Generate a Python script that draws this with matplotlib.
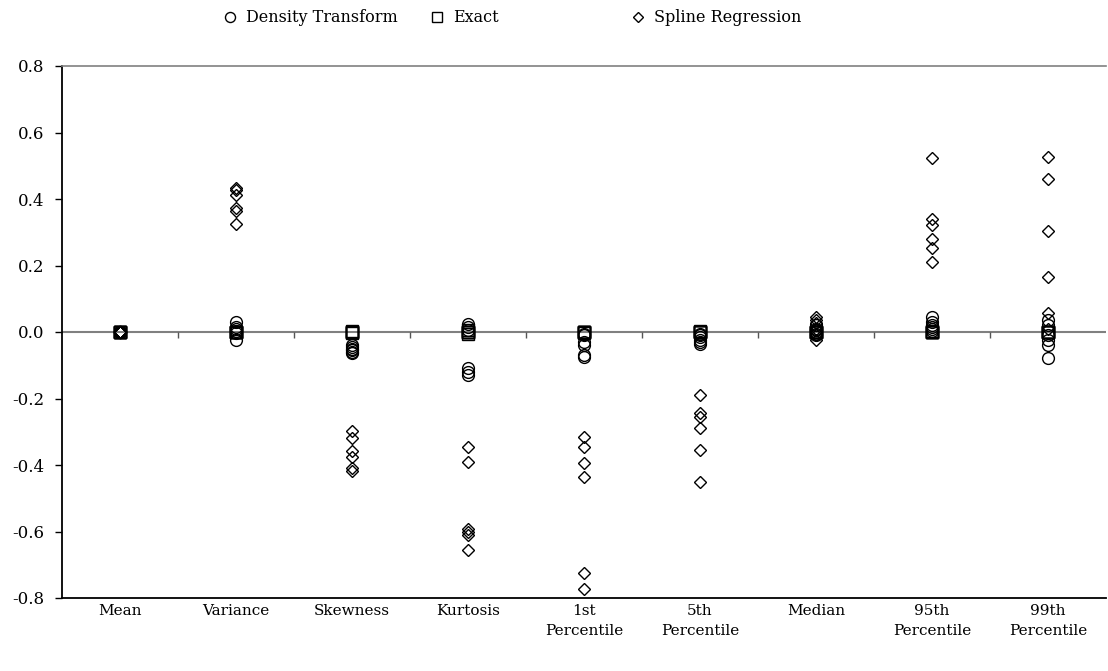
import matplotlib
matplotlib.use("Agg")
import matplotlib.pyplot as plt
import numpy as np

plt.rcParams['font.family'] = ['DejaVu Serif']
plt.rcParams['axes.unicode_minus'] = False

categories = ["Mean", "Variance", "Skewness", "Kurtosis", "1st\nPercentile",
              "5th\nPercentile", "Median", "95th\nPercentile", "99th\nPercentile"]

density_transform = [
    [0.0, 0.0, 0.0, 0.0, 0.0, 0.0],
    [0.031, 0.016, 0.008, 0.004, -0.004, -0.024],
    [-0.040, -0.045, -0.050, -0.055, -0.060, -0.064],
    [0.025, 0.015, 0.005, -0.109, -0.119, -0.129],
    [-0.005, -0.009, -0.030, -0.040, -0.070, -0.075],
    [-0.005, -0.010, -0.014, -0.024, -0.030, -0.036],
    [0.020, 0.010, 0.000, -0.005, -0.010, 0.005],
    [0.046, 0.031, 0.021, 0.016, 0.008, 0.004],
    [0.036, 0.021, -0.009, -0.024, -0.039, -0.079],
]

exact = [
    [0.0, 0.0, 0.0, 0.0, 0.0, 0.0],
    [0.0, 0.0, 0.0, 0.0, 0.0, 0.0],
    [0.003, 0.0, 0.0, 0.0, 0.0, -0.002],
    [0.005, 0.0, -0.005, 0.0, 0.0, 0.0],
    [0.0, 0.0, 0.0, 0.0, 0.0, -0.002],
    [0.004, 0.0, 0.0, 0.0, 0.0, 0.0],
    [0.0, 0.0, 0.0, 0.0, 0.0, 0.0],
    [0.0, 0.0, 0.0, 0.0, 0.0, 0.002],
    [0.0, 0.0, 0.0, 0.0, 0.0, 0.0],
]

spline_regression = [
    [0.0, 0.0, 0.0, 0.0, 0.0, 0.0],
    [0.432, 0.427, 0.412, 0.372, 0.365, 0.325],
    [-0.297, -0.320, -0.357, -0.377, -0.410, -0.417],
    [-0.345, -0.392, -0.591, -0.601, -0.611, -0.656],
    [-0.315, -0.345, -0.395, -0.435, -0.724, -0.774],
    [-0.190, -0.245, -0.257, -0.290, -0.355, -0.450],
    [0.046, 0.036, 0.028, 0.010, -0.010, -0.024],
    [0.522, 0.339, 0.322, 0.279, 0.252, 0.210],
    [0.525, 0.460, 0.305, 0.165, 0.058, 0.010],
]

yticks = [-0.8, -0.6, -0.4, -0.2, 0.0, 0.2, 0.4, 0.6, 0.8]

fig = plt.figure(figsize=(11.08, 6.71), dpi=100)
ax = fig.add_axes([62/1108, 73/671, 1044/1108, 532/671])

n = len(categories)
xpos = np.arange(n)

def scatter_series(vals, marker, ms, label):
    xs = np.repeat(xpos, [len(v) for v in vals])
    ys = np.concatenate([np.asarray(v) for v in vals])
    return ax.plot(xs, ys, linestyle='none', marker=marker, markersize=ms,
                   markerfacecolor='none', markeredgecolor='black',
                   markeredgewidth=1.0, label=label, clip_on=False)[0]

h1 = scatter_series(density_transform, 'o', 8.5, 'Density Transform')
h2 = scatter_series(exact, 's', 8, 'Exact')
h3 = scatter_series(spline_regression, 'D', 6, 'Spline Regression')

ax.set_xlim(-0.5, n - 0.5)
ax.set_ylim(-0.8, 0.8)
ax.set_yticks(yticks)
ax.set_yticklabels(['%.1f' % v for v in yticks])
ax.set_xticks(xpos)
ax.set_xticklabels(categories, fontsize=11, linespacing=1.6, va='top')
ax.tick_params(axis='x', length=0, pad=4)
ax.tick_params(axis='y', direction='out', length=5, width=1, labelsize=12, pad=8)

ax.spines['right'].set_visible(False)
ax.spines['top'].set_color('#808080')
ax.spines['top'].set_linewidth(1.2)
ax.spines['left'].set_linewidth(1.3)
ax.spines['bottom'].set_linewidth(1.3)

# zero axis line with ticks between categories
ax.axhline(0, color='#808080', linewidth=1.5, zorder=1)
bounds = xpos[:-1] + 0.5
ax.vlines(bounds, -0.018, 0, colors='#555555', linewidth=1.0, zorder=1)

# legend entries spread across the top
anchors = [(222/1108, h1), (429/1108, h2), (630/1108, h3)]
for xa, h in anchors:
    fig.legend(handles=[h], loc='center left', bbox_to_anchor=(xa, 1 - 18/671),
               frameon=False, fontsize=11.5, handlelength=1.0, handletextpad=0.5,
               borderpad=0, borderaxespad=0, markerscale=0.85)

fig.savefig('out.png', dpi=100)
